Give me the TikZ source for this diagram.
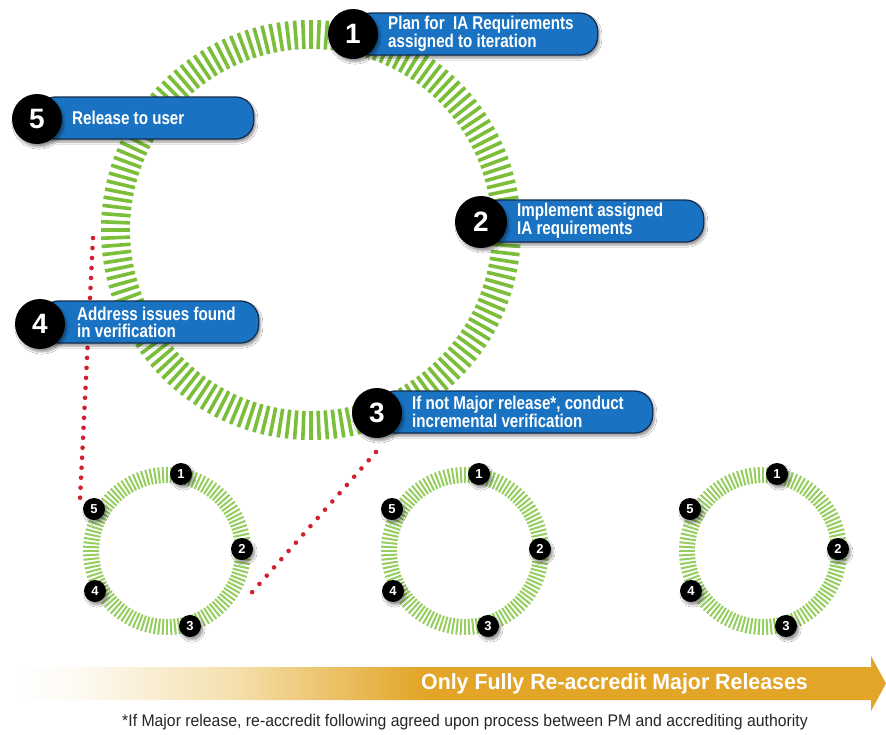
\documentclass[tikz,border=0pt]{standalone}
\usepackage{fontspec}
\setmainfont{Liberation Sans}
\newfontfamily\cond[FakeStretch=0.82]{Liberation Sans}
\newfontfamily\barfont[FakeStretch=0.97]{Liberation Sans}
\newfontfamily\footfont[FakeStretch=0.94]{Liberation Sans}
\usetikzlibrary{shadows.blur}
\definecolor{boxblue}{RGB}{26,115,194}
\definecolor{boxedge}{RGB}{20,45,80}
\definecolor{ringgreen}{RGB}{122,190,58}
\definecolor{ringlight}{RGB}{150,205,95}
\definecolor{dotred}{RGB}{210,30,45}
\definecolor{gold}{RGB}{226,165,40}
\definecolor{paleg}{RGB}{245,225,175}
\pgfdeclarehorizontalshading{barshade}{100bp}{color(0bp)=(white); color(25bp)=(white); color(29bp)=(white!94!gold); color(37.5bp)=(paleg); color(48.5bp)=(gold); color(100bp)=(gold)}
\begin{document}
\begin{tikzpicture}[x=1pt,y=-1pt,
  myshadow/.style={blur shadow={shadow xshift=2pt, shadow yshift=-3pt, shadow blur steps=6}},
  bigbadge/.style={circle, fill=black, minimum size=50pt, inner sep=0pt, text=white,
    font=\fontsize{28}{28}\selectfont\bfseries, myshadow},
  smallbadge/.style={circle, fill=black, minimum size=22pt, inner sep=0pt, text=white,
    font=\fontsize{13}{13}\selectfont\bfseries, myshadow},
  callout/.style={rectangle, rounded corners=18pt, fill=boxblue, draw=boxedge, line width=1.3pt,
    minimum height=42pt, anchor=west, inner sep=0pt, myshadow},
  callouttext/.style={anchor=west, align=left, text=white, inner sep=0pt,
    font=\cond\bfseries\fontsize{18.5}{17}\selectfont},
  dotline/.style={dotred, line width=4.6pt, line cap=round, dash pattern=on 0pt off 10pt},
  bigstripe/.style={ringgreen, line width=3.6pt},
  smallstripe/.style={ringlight, line width=2pt}
]
\fill[white] (0,0) rectangle (886,734);
\useasboundingbox (0,0) rectangle (886,734);

% big ring
\coordinate (bigc) at (311,230);
\foreach \a in {0,2.25,...,357.8}
  \draw[bigstripe] (bigc) ++(\a:181) -- ++(\a:29);

% small rings
\foreach \i/\cx in {1/167,2/465,3/763}{
  \coordinate (sc\i) at (\cx,551);
  \foreach \a in {0,3,...,357}
    \draw[smallstripe] (sc\i) ++(\a:68) -- ++(\a:16);
}

% dotted zoom lines
\coordinate (zA1) at (93,238);
\coordinate (zA2) at (80,499);
\coordinate (zB1) at (376,452);
\coordinate (zB2) at (247,598);
\draw[dotline] (zA1) -- (zA2);
\draw[dotline, dash pattern=on 0pt off 11pt] (zB1) -- (zB2);

% small badges
\foreach \i/\cx in {1/167,2/465,3/763}{
  \node[smallbadge] (s\i n1) at (\cx+14,474) {1};
  \node[smallbadge] (s\i n2) at (\cx+75,549) {2};
  \node[smallbadge] (s\i n3) at (\cx+23,626) {3};
  \node[smallbadge] (s\i n4) at (\cx-72,591) {4};
  \node[smallbadge] (s\i n5) at (\cx-73,509) {5};
}

% callout boxes
\node[callout, minimum width=244pt] (b1) at (353,34) {};
\node[callout, minimum width=222pt] (b2) at (481,221) {};
\node[callout, minimum width=275pt] (b3) at (377,412) {};
\node[callout, minimum width=218pt] (b4) at (40,322) {};
\node[callout, minimum width=216pt] (b5) at (37,118) {};

% big badges
\node[bigbadge] (n1) at (353,34) {1};
\node[bigbadge, minimum size=52pt] (n2) at (481,222) {2};
\node[bigbadge] (n3) at (377,413) {3};
\node[bigbadge] (n4) at (40,324) {4};
\node[bigbadge] (n5) at (37,119) {5};

% callout texts
\node[callouttext] (t1) at ([xshift=35pt]b1.west) {Plan for\ \ IA Requirements\\assigned to iteration};
\node[callouttext] (t2) at ([xshift=36pt]b2.west) {Implement assigned\\IA requirements};
\node[callouttext] (t3) at ([xshift=35pt]b3.west) {If not Major release*, conduct\\incremental verification};
\node[callouttext] (t4) at ([xshift=37pt]b4.west) {Address issues found\\in verification};
\node[callouttext] (t5) at ([xshift=35pt]b5.west) {Release to user};

% timeline arrow
\shade[shading=barshade] (12,667) -- (871,667) -- (871,656) -- (886,683.5) -- (871,711) -- (871,700) -- (12,700) -- cycle;
\node[anchor=east, text=white, inner sep=0pt, font=\barfont\bfseries\fontsize{22}{22}\selectfont] (bar) at (808,683.5) {Only Fully Re-accredit Major Releases};

% footnote
\node[anchor=east, text=black!85, inner sep=0pt, font=\footfont\fontsize{16.8}{16.8}\selectfont] (foot) at (808,722) {*If Major release, re-accredit following agreed upon process between PM and accrediting authority};
\end{tikzpicture}
\end{document}
